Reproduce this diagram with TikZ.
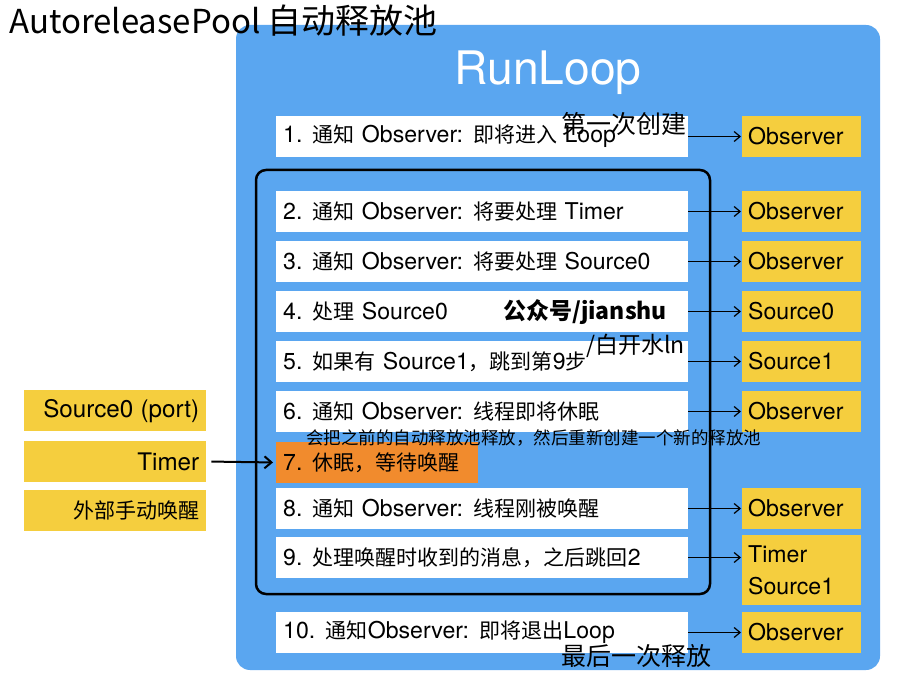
\documentclass[tikz,border=0pt]{standalone}
\usepackage{fontspec}
\setmainfont{Noto Sans CJK SC}
\newfontfamily\heros{TeX Gyre Heros}[Scale=1.1]
\newcommand\lt[1]{{\heros #1}}
\usetikzlibrary{arrows.meta}
\definecolor{rlblue}{RGB}{90,166,240}
\definecolor{rlyellow}{RGB}{245,206,62}
\definecolor{rlorange}{RGB}{241,139,45}
\begin{document}
\begin{tikzpicture}[x=1pt,y=-1pt,
  boxfont/.style={font=\fontsize{21}{25}\selectfont},
  stepbox/.style={boxfont, fill=white, text width=398pt, inner xsep=7pt, inner ysep=0pt, minimum height=41pt, align=left, anchor=west},
  sleepbox/.style={stepbox, fill=rlorange, text width=188pt},
  obsbox/.style={boxfont, fill=rlyellow, text width=107pt, inner xsep=6pt, inner ysep=0pt, minimum height=41pt, align=left, anchor=west},
  srcbox/.style={boxfont, fill=rlyellow, text width=168pt, inner xsep=7pt, inner ysep=0pt, minimum height=41pt, align=right, anchor=west},
  flow/.style={-{Straight Barb[length=6pt,width=10pt]}, line width=1.2pt, shorten >=1pt},
  note/.style={font=\fontsize{25}{28}\selectfont, inner sep=0pt}]
\useasboundingbox (0,0) rectangle (900,692);
\fill[white] (0,0) rectangle (900,692);
% runloop background
\fill[rlblue, rounded corners=14pt] (236,25) rectangle (880,670);
% title
\node[anchor=west, inner sep=0pt, font=\fontsize{33}{36}\selectfont] (title) at (9,21) {AutoreleasePool {\fontsize{34}{36}\selectfont 自动释放池}};
\node[text=white, inner sep=0pt, font=\heros\fontsize{42}{46}\selectfont] (rl) at (548,73) {RunLoop};
% loop frame
\draw[line width=2.5pt, rounded corners=10pt] (256,170) rectangle (710,594);
% steps
\node[stepbox] (s1) at (276,136.5) {\lt{1. }通知\lt{ Observer: }即将进入\lt{ Loop}};
\node[stepbox] (s2) at (276,211.5) {\lt{2. }通知\lt{ Observer: }将要处理\lt{ Timer}};
\node[stepbox] (s3) at (276,261.5) {\lt{3. }通知\lt{ Observer: }将要处理\lt{ Source0}};
\node[stepbox] (s4) at (276,311.5) {\lt{4. }处理\lt{ Source0}};
\node[stepbox] (s5) at (276,361.5) {\lt{5. }如果有\lt{ Source1}，跳到第\lt{9}步};
\node[stepbox] (s6) at (276,411.5) {\lt{6. }通知\lt{ Observer: }线程即将休眠};
\node[sleepbox] (s7) at (276,462.5) {\lt{7. }休眠，等待唤醒};
\node[stepbox] (s8) at (276,508.5) {\lt{8. }通知\lt{ Observer: }线程刚被唤醒};
\node[stepbox] (s9) at (276,557.5) {\lt{9. }处理唤醒时收到的消息，之后跳回\lt{2}};
\node[stepbox] (s10) at (276,632.5) {\lt{10. }通知\lt{Observer: }即将退出\lt{Loop}};
% right boxes
\node[obsbox] (o1) at (742,136.5) {\lt{Observer}};
\node[obsbox] (o2) at (742,211.5) {\lt{Observer}};
\node[obsbox] (o3) at (742,261.5) {\lt{Observer}};
\node[obsbox] (o4) at (742,311.5) {\lt{Source0}};
\node[obsbox] (o5) at (742,361.5) {\lt{Source1}};
\node[obsbox] (o6) at (742,411.5) {\lt{Observer}};
\node[obsbox] (o8) at (742,508.5) {\lt{Observer}};
\node[obsbox, minimum height=70pt, font=\fontsize{21}{32}\selectfont] (o9) at (742,570) {\lt{Timer}\\\lt{Source1}};
\node[obsbox] (o10) at (742,632.5) {\lt{Observer}};
% left boxes
\node[srcbox, font=\fontsize{22}{25}\selectfont] (l1) at (24,411) {\lt{Source0 (port)}};
\node[srcbox, font=\fontsize{22}{25}\selectfont] (l2) at (24,461.5) {\lt{Timer}};
\node[srcbox] (l3) at (24,510.5) {外部手动唤醒};
% arrows
\foreach \i in {1,2,3,4,5,6,8,10}{
  \draw[flow] (s\i.east) -- (o\i.west);
}
\draw[flow] (s9.east) -- (s9.east -| o9.west);
\draw[-{Straight Barb[length=7pt,width=12pt]}, line width=2pt, shorten <=5pt, shorten >=3pt] (l2.east) -- (s7.west);
% annotations
\node[note] (n1) at (624,124) {第一次创建};
\node[note, anchor=west, font=\bfseries\fontsize{23}{26}\selectfont] (n2) at (503,312) {公众号/jianshu};
\node[note, anchor=west, font=\fontsize{23}{26}\selectfont] (n3) at (586,346) {/白开水ln};
\node[note, anchor=west, font=\fontsize{17.5}{20}\selectfont] (n4) at (306,438) {会把之前的自动释放池释放，然后重新创建一个新的释放池};
\node[note] (n5) at (636,656) {最后一次释放};
\end{tikzpicture}
\end{document}
